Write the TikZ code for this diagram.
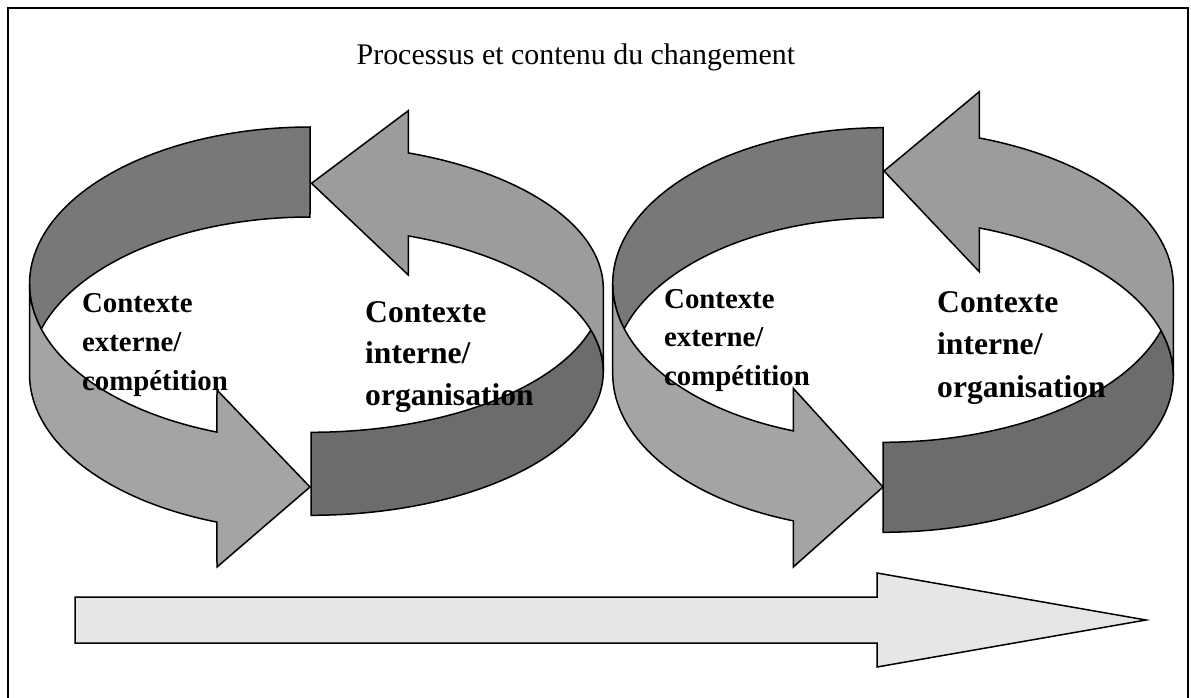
\documentclass[tikz,border=0pt]{standalone}
\usepackage{fontspec}
\setmainfont{Liberation Serif}
\definecolor{ladark}{HTML}{787878}
\definecolor{lalight}{HTML}{A4A4A4}
\definecolor{radark}{HTML}{6C6C6C}
\definecolor{ralight}{HTML}{9C9C9C}
\definecolor{timegrey}{HTML}{E6E6E6}
\begin{document}
\begin{tikzpicture}[x=1pt,y=-1pt,
  band/.style={draw=black, line width=1.5pt, line join=miter},
  titletext/.style={inner sep=0pt, anchor=base west, font=\fontsize{29.9}{36}\selectfont},
  lblsmall/.style={inner sep=0pt, anchor=base west, font=\bfseries\fontsize{28.8}{39}\selectfont},
  lblbig/.style={inner sep=0pt, anchor=base west, font=\bfseries\fontsize{31.6}{42}\selectfont}]
\useasboundingbox (0,0) rectangle (1191,698);
\fill[white] (0,0) rectangle (1191,698);
\draw[line width=2.2pt] (8,699) -- (8,8) -- (1188,8) -- (1188,699);

% ---------- left cycle, left arrow ----------
\filldraw[band, fill=ladark]
  plot[domain=90:196.65,samples=80] ({310+280.5*cos(\x)},{284-157*sin(\x)})
  -- plot[domain=163.35:90,samples=80] ({310+280.5*cos(\x)},{374-157*sin(\x)})
  -- cycle;
\filldraw[band, fill=lalight]
  plot[domain=180:250.63,samples=60] ({310+280.5*cos(\x)},{284-157*sin(\x)})
  -- (217,390) -- (310,487) -- (217,567)
  -- plot[domain=250.63:180,samples=60] ({310+280.5*cos(\x)},{374-157*sin(\x)})
  -- cycle;

% ---------- left cycle, right arrow ----------
\filldraw[band, fill=radark]
  plot[domain=270:343.23,samples=60] ({311+292.3*cos(\x)},{288.5-143.8*sin(\x)})
  -- plot[domain=16.77:0,samples=20] ({311+292.3*cos(\x)},{371.5-143.8*sin(\x)})
  -- plot[domain=360:270,samples=60] ({311+292.3*cos(\x)},{371.5-143.8*sin(\x)})
  -- cycle;
\filldraw[band, fill=ralight]
  plot[domain=70.55:0,samples=60] ({311+292.3*cos(\x)},{288.5-143.8*sin(\x)})
  -- plot[domain=0:70.55,samples=60] ({311+292.3*cos(\x)},{371.5-143.8*sin(\x)})
  -- (408.3,275) -- (311.5,183.3) -- (408.3,110.7)
  -- cycle;

% ---------- right cycle, left arrow ----------
\filldraw[band, fill=ladark]
  plot[domain=90:196.77,samples=80] ({883+270.3*cos(\x)},{283.7-156*sin(\x)})
  -- plot[domain=163.23:90,samples=80] ({883+270.3*cos(\x)},{373.7-156*sin(\x)})
  -- cycle;
\filldraw[band, fill=lalight]
  plot[domain=180:250.62,samples=60] ({883+270.3*cos(\x)},{283.7-156*sin(\x)})
  -- (793.3,388.3) -- (883,487) -- (793.3,567)
  -- plot[domain=250.62:180,samples=60] ({883+270.3*cos(\x)},{373.7-156*sin(\x)})
  -- cycle;

% ---------- right cycle, right arrow ----------
\filldraw[band, fill=radark]
  plot[domain=270:343.3,samples=60] ({883+290.3*cos(\x)},{285.7-156.6*sin(\x)})
  -- plot[domain=16.7:0,samples=20] ({883+290.3*cos(\x)},{375.7-156.6*sin(\x)})
  -- plot[domain=360:270,samples=60] ({883+290.3*cos(\x)},{375.7-156.6*sin(\x)})
  -- cycle;
\filldraw[band, fill=ralight]
  plot[domain=70.63:0,samples=60] ({883+290.3*cos(\x)},{285.7-156.6*sin(\x)})
  -- plot[domain=0:70.63,samples=60] ({883+290.3*cos(\x)},{375.7-156.6*sin(\x)})
  -- (979.3,271.7) -- (884,171) -- (979.3,91.7)
  -- cycle;

% ---------- time arrow ----------
\filldraw[band, fill=timegrey]
  (75,597) -- (877,597) -- (877,573) -- (1146,620) -- (877,667) -- (877,643) -- (75,643) -- cycle;

% ---------- texts ----------
\node[titletext] (title) at (356.5,65) {Processus et contenu du changement};
\node[lblsmall] (ext1) at (82,312) {\vtop{\baselineskip=39pt\hbox{Contexte}\hbox{externe/}\hbox{compétition}}};
\node[lblbig] (int1) at (365,322) {\vtop{\baselineskip=41.5pt\hbox{Contexte}\hbox{interne/}\hbox{organisation}}};
\node[lblsmall] (ext2) at (664,308) {\vtop{\baselineskip=38.5pt\hbox{Contexte}\hbox{externe/}\hbox{compétition}}};
\node[lblbig] (int2) at (937,312) {\vtop{\baselineskip=42.5pt\hbox{Contexte}\hbox{interne/}\hbox{organisation}}};
\end{tikzpicture}
\end{document}
